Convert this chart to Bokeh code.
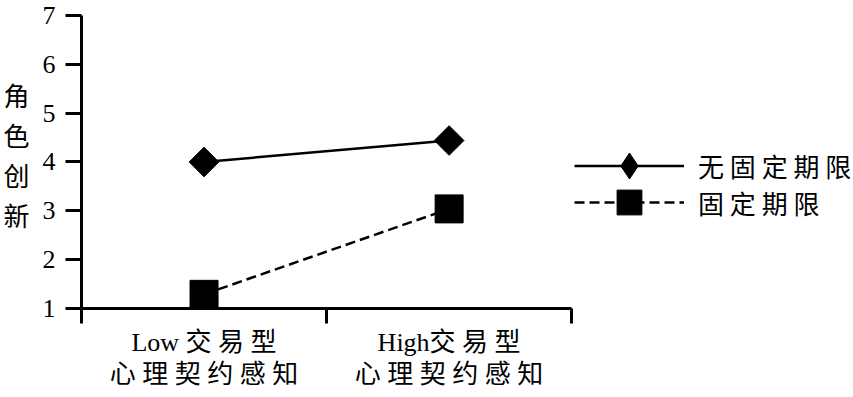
import math
from bokeh.plotting import figure
from bokeh.models import (Range1d, LinearAxis, FixedTicker, Legend, LegendItem,
                          ColumnDataSource, CustomJSTickFormatter)
from bokeh.embed import file_html
from bokeh.resources import INLINE

# ---- data ----
categories = ["Low 交 易 型\n心 理 契 约 感 知", "High交 易 型\n心 理 契 约 感 知"]
no_fixed_term = [4.0, 4.44]
fixed_term = [1.29, 3.04]
series_names = ["无 固 定 期 限", "固 定 期 限"]
y_ticks = [1, 2, 3, 4, 5, 6, 7]
y_title = "角\n色\n创\n新"

SERIF = "'Liberation Serif', 'Noto Sans CJK SC'"
CJK = "'Noto Sans CJK SC'"

n_cat = len(categories)
x_pos = [i + 0.5 for i in range(n_cat)]          # centre of each category slot
src = ColumnDataSource(dict(x=x_pos, a=no_fixed_term, b=fixed_term))

p = figure(width=853, height=397, title=None,
           x_range=Range1d(0, 3.15), y_range=Range1d(1, 7.307),
           output_backend="svg", toolbar_location=None,
           x_axis_location=None, y_axis_location=None,
           min_border_left=78, min_border_right=0,
           min_border_top=0, min_border_bottom=89)
p.outline_line_color = None
p.grid.visible = False
p.background_fill_color = "white"
p.border_fill_color = "white"

# x axis: labels under the category centres, tick marks on the category boundaries
x_axis = LinearAxis(ticker=FixedTicker(ticks=x_pos, minor_ticks=list(range(n_cat + 1))),
                    bounds=(0, n_cat),
                    formatter=CustomJSTickFormatter(args=dict(labels=categories),
                                                    code="return labels[index]"),
                    axis_line_width=3, axis_line_color="black",
                    major_tick_out=0, major_tick_in=0, major_tick_line_color=None,
                    minor_tick_out=15, minor_tick_in=0, minor_tick_line_width=3,
                    minor_tick_line_color="black", major_label_standoff=4,
                    major_label_text_font=SERIF, major_label_text_font_size="26px",
                    major_label_text_line_height=1.13, major_label_text_color="black")
p.add_layout(x_axis, "below")

y_axis = LinearAxis(ticker=FixedTicker(ticks=y_ticks, minor_ticks=[]), bounds=(1, 7),
                    axis_line_width=3, axis_line_color="black",
                    major_tick_out=16, major_tick_in=0, major_tick_line_width=3,
                    minor_tick_line_color=None, major_label_standoff=10,
                    major_label_text_font=SERIF, major_label_text_font_size="26px",
                    major_label_text_color="black",
                    axis_label=y_title, axis_label_text_font=CJK,
                    axis_label_text_font_size="26px", axis_label_text_font_style="normal",
                    axis_label_text_line_height=1.08, axis_label_standoff=10,
                    axis_label_text_color="black")
if "axis_label_orientation" in LinearAxis.properties():
    y_axis.axis_label_orientation = "horizontal"
p.add_layout(y_axis, "left")

# ---- series ----
r_a_pts = p.scatter("x", "a", source=src, marker="square", angle=math.pi / 4,
                    size=21, color="black")
r_a_line = p.line("x", "a", source=src, line_color="black", line_width=2.5)
r_b_pts = p.scatter("x", "b", source=src, marker="square", size=28, color="black")
r_b_line = p.line("x", "b", source=src, line_color="black", line_width=2.5,
                  line_dash="10 5")
# legend symbol for the diamond series (legend swatches are drawn unrotated)
r_a_key = p.scatter("x", "a", source=src, marker="diamond", size=26, color="black",
                    visible=False)

common = dict(glyph_width=110, label_standoff=14, label_text_font=CJK,
              label_text_font_size="26px", label_text_color="black",
              padding=0, margin=0, spacing=0, border_line_color=None,
              background_fill_alpha=0)
leg_a = Legend(items=[LegendItem(label=series_names[0], renderers=[r_a_line, r_a_key])],
               location=(493, 110), glyph_height=65, **common)
leg_b = Legend(items=[LegendItem(label=series_names[1], renderers=[r_b_line, r_b_pts])],
               location=(493, 75), glyph_height=62, **common)
p.add_layout(leg_a, "center")
p.add_layout(leg_b, "center")

open("out.html", "w", encoding="utf-8").write(file_html(p, INLINE))
